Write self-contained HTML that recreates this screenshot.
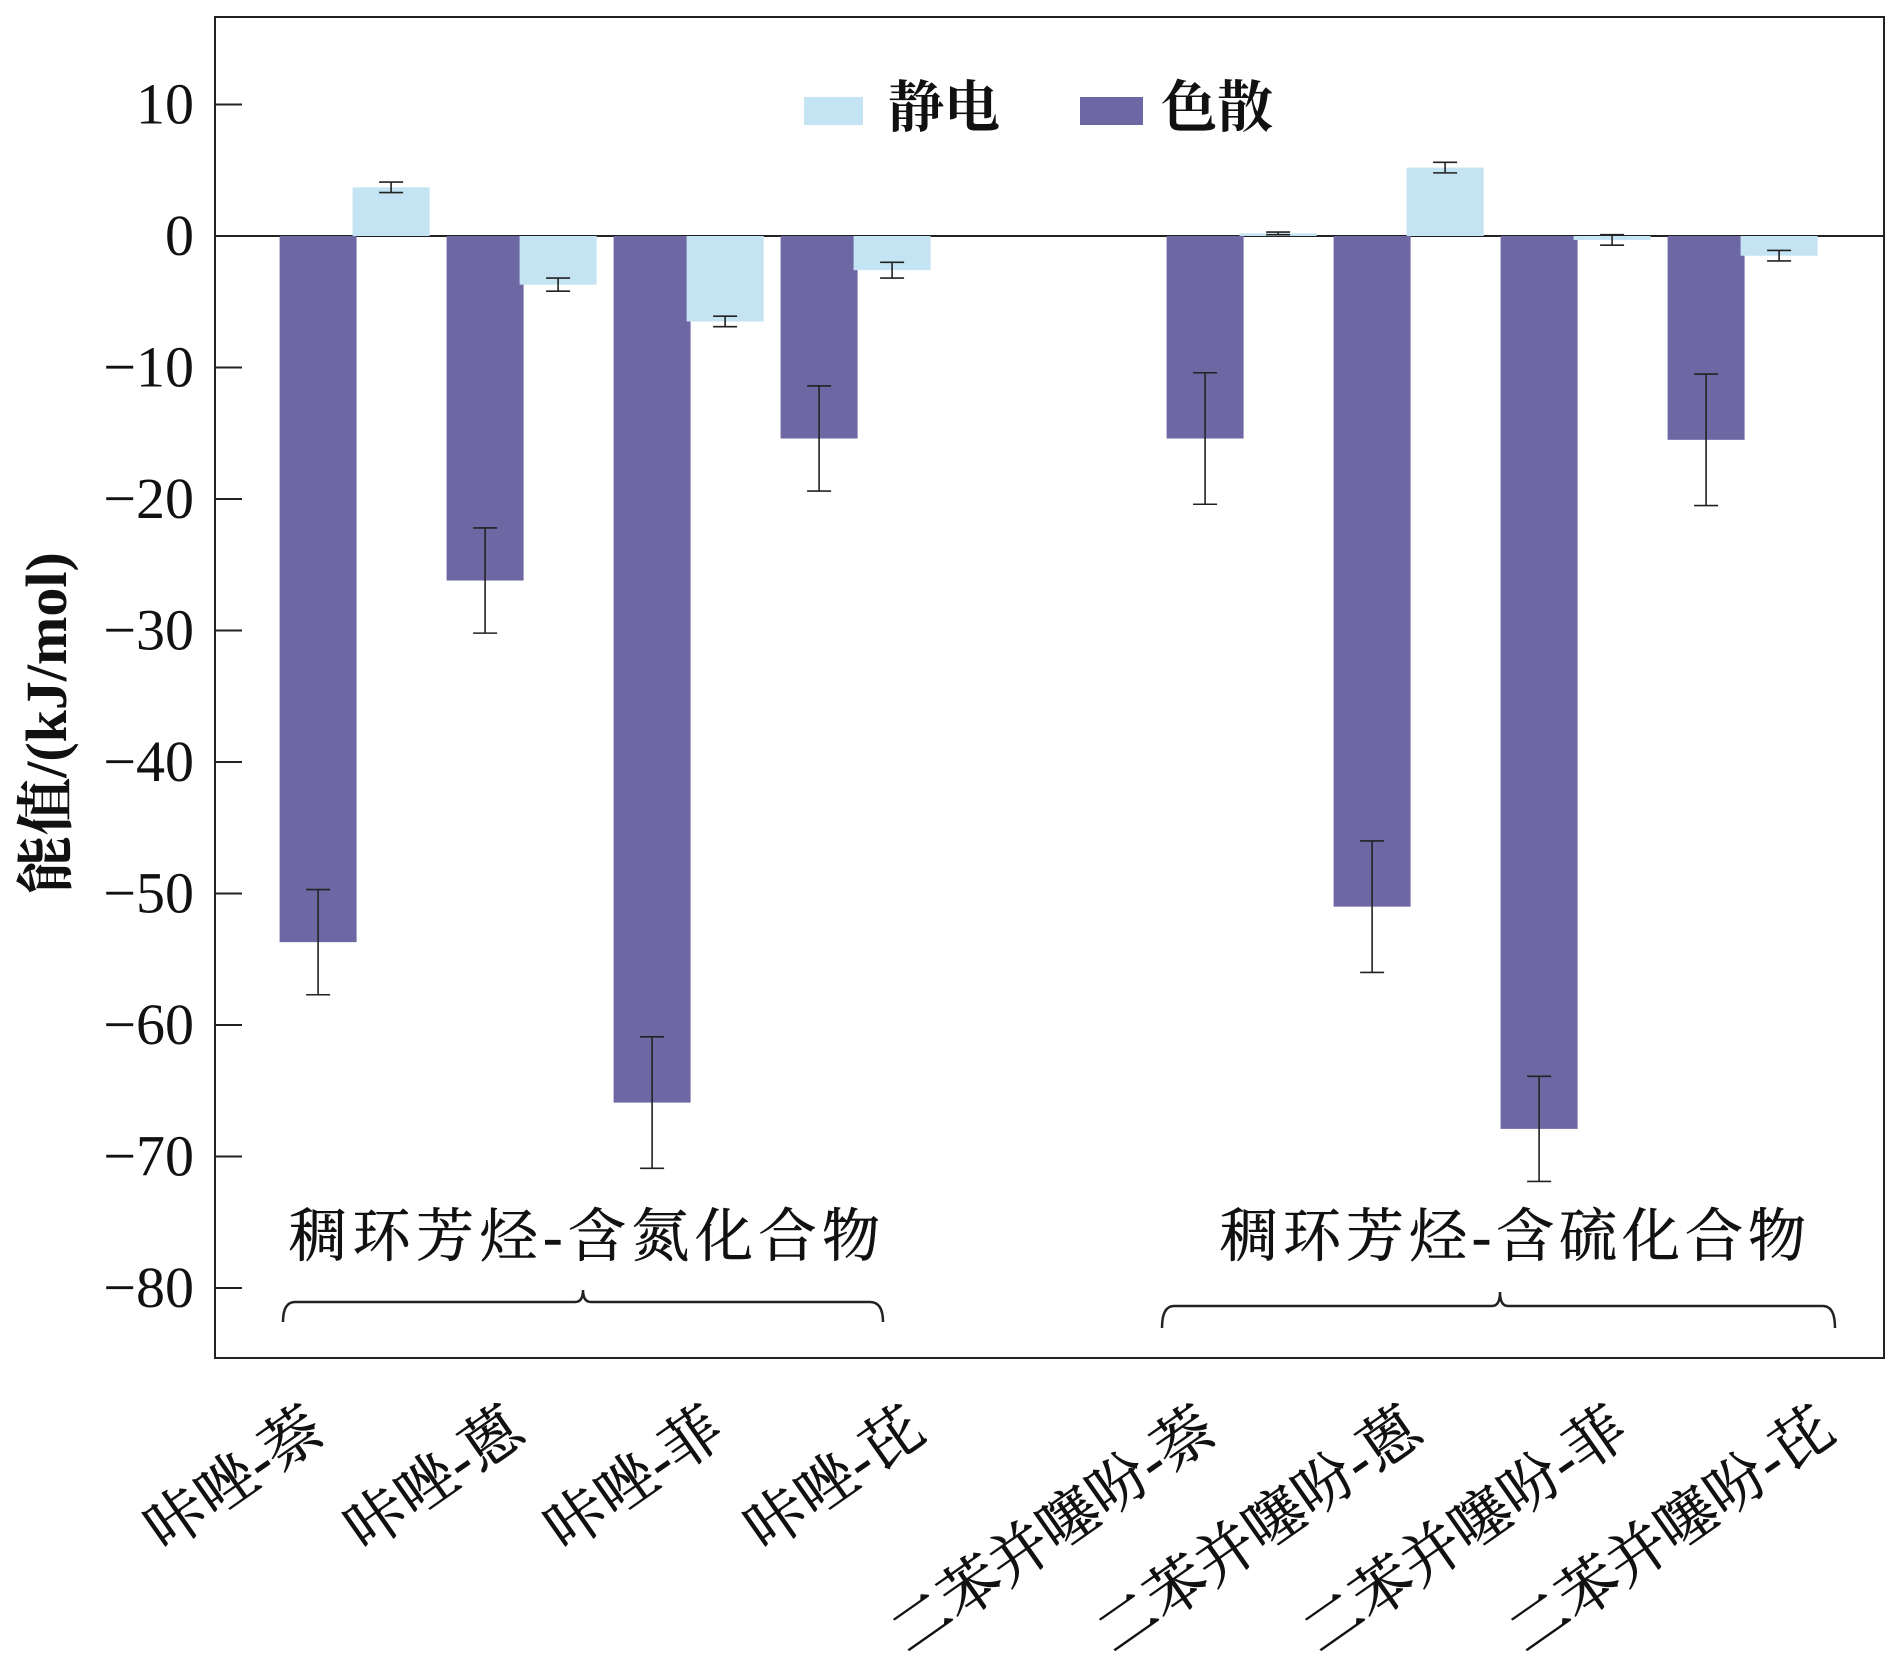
<!DOCTYPE html>
<html><head><meta charset="utf-8"><style>
html,body{margin:0;padding:0;background:#fff;}
svg{display:block;font-family:"Liberation Serif","Noto Serif CJK SC","Noto Sans CJK SC",serif;}
</style></head><body>
<svg id="chart" width="1890" height="1666" viewBox="0 0 1890 1666" xmlns="http://www.w3.org/2000/svg">
<rect x="215" y="17" width="1669" height="1341" fill="none" stroke="#222" stroke-width="2"/>
<g id="grid"></g><g id="bars"></g><g id="labels"></g>
<g>
<rect x="804" y="97" width="59" height="28" fill="#c4e4f3"/>
<text x="888" y="127" font-size="56" font-weight="bold" fill="#111">静电</text>
<rect x="1080" y="97" width="63" height="28" fill="#6d68a3"/>
<text x="1161" y="127" font-size="56" font-weight="bold" fill="#111">色散</text>
</g>
<text x="289" y="1256" font-size="58" fill="#111" stroke="#111" stroke-width="0.6" textLength="591">稠环芳烃-含氮化合物</text>
<text x="1220" y="1256" font-size="58" fill="#111" stroke="#111" stroke-width="0.6" textLength="586">稠环芳烃-含硫化合物</text>
<path d="M283 1322 Q283 1302 295 1302 L575 1302 Q583 1302 583 1290 Q583 1302 591 1302 L870 1302 Q883 1302 883 1322" fill="none" stroke="#222" stroke-width="2.5"/>
<path d="M1162 1328 Q1162 1306 1174 1306 L1492 1306 Q1500 1306 1500 1292 Q1500 1306 1508 1306 L1823 1306 Q1835 1306 1835 1328" fill="none" stroke="#222" stroke-width="2.5"/>
<text transform="translate(66,723) rotate(-90)" text-anchor="middle" font-size="58" font-weight="bold" fill="#111">能值/(kJ/mol)</text>
</svg>
<script>
const categories = ["咔唑-萘","咔唑-蒽","咔唑-菲","咔唑-芘","二苯并噻吩-萘","二苯并噻吩-蒽","二苯并噻吩-菲","二苯并噻吩-芘"];
const dispersion = [-53.7,-26.2,-65.9,-15.4,-15.4,-51.0,-67.9,-15.5];
const dispersionErr = [4,4,5,4,5,5,4,5];
const electrostatic = [3.7,-3.7,-6.5,-2.6,0.2,5.2,-0.3,-1.5];
const electrostaticErr = [0.4,0.5,0.4,0.6,0.1,0.4,0.4,0.4];
const yTicks = [10,0,-10,-20,-30,-40,-50,-60,-70,-80];

const NS="http://www.w3.org/2000/svg";
const y = v => 236 - v*13.15;
const xStart = i => 279.6 + i*167 + (i>=4 ? 219 : 0);
const labelEnd = i => (i<4 ? 328 + i*200 : 1220 + (i-4)*206);
const barW = 77;
function mk(tag, attrs, parent){const e=document.createElementNS(NS,tag);for(const k in attrs)e.setAttribute(k,attrs[k]);parent.appendChild(e);return e;}
const grid=document.getElementById('grid'), bars=document.getElementById('bars'), labels=document.getElementById('labels');

yTicks.forEach(t=>{
  const l=mk('line',{x1:215,x2:242,y1:y(t),y2:y(t),stroke:'#222','stroke-width':2},grid);
  
  
  const tx=mk('text',{x:194,y:y(t)+19,'text-anchor':'end','font-size':58,fill:'#111'},grid);
  tx.textContent = t<0 ? '\u2212'+Math.abs(t) : String(t);
  
  
});

function bar(x,v,err,color,name){
  const top=Math.min(y(0),y(v)), h=Math.abs(y(v)-y(0));
  const r=mk('rect',{x:x,y:top,width:barW,height:Math.max(h,1),fill:color},bars);
  
  
  const cx=x+barW/2, a=y(v+err), b=y(v-err);
  const g=mk('g',{stroke:'#222','stroke-width':1.6},bars);
  
  
  mk('line',{x1:cx,x2:cx,y1:a,y2:b},g);
  mk('line',{x1:cx-12,x2:cx+12,y1:a,y2:a},g);
  mk('line',{x1:cx-12,x2:cx+12,y1:b,y2:b},g);
}
categories.forEach((c,i)=>{
  const x=xStart(i);
  bar(x,dispersion[i],dispersionErr[i],'#6d68a3','bar-dispersion-'+(i+1));
  bar(x+barW-4,electrostatic[i],electrostaticErr[i],'#c4e4f3','bar-electrostatic-'+(i+1));
  const ex=labelEnd(i), ey=1438;
  const t=mk('text',{x:ex,y:ey,'text-anchor':'end','font-size':60,fill:'#111',stroke:'#111','stroke-width':0.6,transform:`rotate(-35 ${ex} ${ey})`},labels);
  t.textContent=c;
  
  
});
const z=mk('line',{x1:215,x2:1884,y1:y(0),y2:y(0),stroke:'#222','stroke-width':2},grid);


</script>
</body></html>
